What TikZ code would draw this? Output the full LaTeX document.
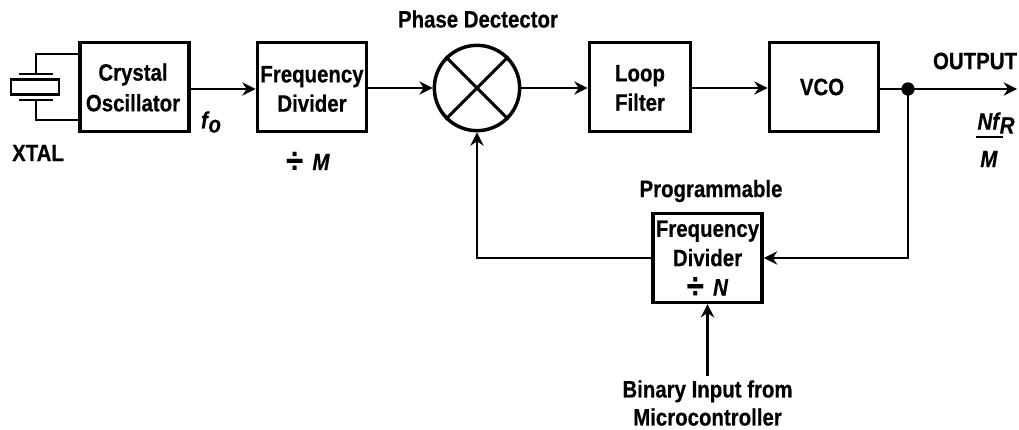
\documentclass[tikz,border=0pt]{standalone}
\usepackage{fontspec}
\setmainfont[FakeStretch=0.86,BoldFeatures={FakeBold=0.5},BoldItalicFeatures={FakeBold=0.5}]{Liberation Sans}
\usetikzlibrary{arrows.meta}
\newcommand{\bigdiv}{\smash{\raisebox{-2pt}{\fontsize{27pt}{22pt}\selectfont ÷}}\kern7pt}
\tikzset{
  every node/.style={font=\fontsize{17.8pt}{22pt}\selectfont\bfseries},
  blk/.style={draw,line width=2.6pt,minimum width=82pt,minimum height=66.5pt,align=center,inner sep=0pt},
  lab/.style={align=center,inner sep=0pt},
  wire/.style={line width=2.2pt},
  arr/.style={wire,-{Stealth[length=10pt,width=10pt]}},
}
\begin{document}
\begin{tikzpicture}[x=0.75pt,y=-0.75pt]
\useasboundingbox (0,0) rectangle (1019,429);
\node[blk] (xo) at (134.5,87) {};
\node[lab] at (133,87.5) {Crystal\\[1pt]Oscillator};
\node[blk] (fd) at (312,87) {};
\node[lab] at (312,89) {Frequency\\[0pt]Divider};
\node[draw,circle,line width=2.6pt,minimum size=64pt,inner sep=0pt] (pd) at (477,88) {};
\draw[line width=2.2pt] (pd.45) -- (pd.225) (pd.135) -- (pd.315);
\node[blk,minimum width=76pt] (lf) at (640,87) {};
\node[lab] at (640,88) {Loop\\[0pt]Filter};
\node[blk] (vco) at (824,87) {};
\node[lab] at (822,87) {VCO};
\node[blk] (pfd) at (707.5,258) {};
\node[lab] at (707.5,258) {Frequency\\[0pt]Divider\\[0pt]\bigdiv\textit{N}};
% crystal
\coordinate (xa) at (36,54);
\coordinate (xb) at (36,120);
\coordinate (xt) at (36,74);
\coordinate (xbb) at (36,100);
\draw[wire] (xo.west |- xa) -- (xa) -- (xt);
\draw[wire] (xo.west |- xb) -- (xb) -- (xbb);
\draw[wire] (19,74) -- (53,74);
\draw[wire] (19,100) -- (53,100);
\draw[wire] (11,79.5) rectangle (59,94.5);
\node[lab] at (38,153) {XTAL};
% connectors
\draw[arr] (xo.east |- 0,89) -- (fd.west |- 0,89);
\draw[arr] (fd.east |- 0,88) -- (pd.west);
\draw[arr] (pd.east) -- (lf.west |- pd.east);
\draw[arr] (lf.east |- 0,88) -- (vco.west |- 0,88);
\coordinate (out) at (1017,89);
\coordinate (jn) at (908,89);
\draw[arr] (vco.east |- out) -- (out);
\fill (jn) circle (5pt);
\draw[arr] (jn) -- (908,258) -- (pfd.east);
\draw[arr] (pfd.west) -- (477,258) -- (pd.south);
\coordinate (bin) at (707.5,376);
\draw[arr] (bin) -- (pfd.south);
% labels
\node[lab] at (211,122) {\textit{f\kern0.5pt\raisebox{-3pt}{o}}};
\node[lab] at (308,162) {\bigdiv\textit{M}};
\node[lab] at (478,19) {Phase Dectector};
\node[lab] at (711,191) {Programmable};
\node[lab] at (975,61) {OUTPUT};
\node[lab] at (996,123) {\textit{Nf\kern0.5pt\raisebox{-3pt}{R}}};
\draw[line width=2pt] (976,137) -- (1003,137);
\node[lab] at (989,159) {\textit{M}};
\node[lab] at (707.5,403) {Binary Input from\\[-1pt]Microcontroller};
\end{tikzpicture}
\end{document}
